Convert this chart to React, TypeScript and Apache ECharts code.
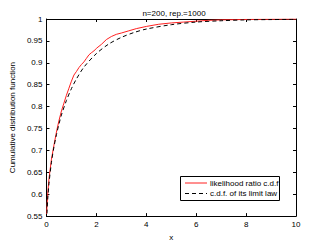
import React, { useEffect, useRef } from "react";
import * as echarts from "echarts";

const titleText = "n=200, rep.=1000";
const seriesNames = ["likelihood ratio c.d.f", "c.d.f. of its limit law"];

const empX = [0, 0.02, 0.05, 0.1, 0.2, 0.3, 0.4, 0.5, 0.6, 0.7, 0.8, 0.9, 1.0, 1.1, 1.2, 1.3, 1.4, 1.5, 1.6, 1.7, 1.8, 1.9, 2.0, 2.2, 2.4, 2.6, 2.8, 3.0, 3.3, 3.6, 4.0, 4.5, 5, 5.5, 6, 6.5, 7, 8, 9, 10];
const empY = [0.555, 0.57, 0.6, 0.635, 0.68, 0.712, 0.742, 0.768, 0.79, 0.808, 0.826, 0.842, 0.858, 0.872, 0.88, 0.889, 0.896, 0.902, 0.91, 0.918, 0.923, 0.927, 0.933, 0.942, 0.953, 0.96, 0.965, 0.968, 0.973, 0.978, 0.983, 0.988, 0.991, 0.993, 0.995, 0.997, 0.998, 0.999, 0.9995, 1];

const limX = [0.01, 0.02, 0.05, 0.1, 0.2, 0.3, 0.4, 0.5, 0.6, 0.8, 1, 1.2, 1.5, 2, 2.5, 3, 3.5, 4, 5, 6, 7, 8, 9, 10];
const limY = [0.54, 0.556, 0.588, 0.624, 0.673, 0.708, 0.736, 0.76, 0.781, 0.814, 0.841, 0.863, 0.89, 0.921, 0.943, 0.958, 0.969, 0.977, 0.987, 0.993, 0.996, 0.998, 0.9987, 0.9992];

const font = "Liberation Sans, Arial, sans-serif";

export default function App() {
  const ref = useRef<HTMLDivElement>(null);
  useEffect(() => {
    const chart = echarts.init(ref.current!, null, { renderer: "svg" });
    const emp = empX.map((x, i) => [x, empY[i]]);
    const lim = limX.map((x, i) => [x, limY[i]]);
    const axisCommon = {
      axisLine: { show: true, onZero: false, lineStyle: { color: "#000", width: 1 } },
      axisTick: { show: true, inside: true, length: 3, lineStyle: { color: "#000" } },
      splitLine: { show: false },
    };
    const lx = 180, ly = 176, lw = 99, lh = 24;
    chart.setOption({
      animation: false,
      backgroundColor: "#fff",
      textStyle: { fontFamily: font },
      title: {
        text: titleText,
        left: 169,
        top: 4,
        textAlign: "center",
        textStyle: { fontSize: 8, fontWeight: "normal", color: "#000", fontFamily: font },
      },
      grid: { left: 42, top: 19, width: 254, height: 199 },
      graphic: [
        {
          type: "group",
          z: 100,
          children: [
            {
              type: "rect",
              shape: { x: lx + 0.5, y: ly + 0.5, width: lw, height: lh },
              style: { fill: "#fff", stroke: "#000", lineWidth: 1 },
            },
            {
              type: "line",
              shape: { x1: lx + 5, y1: ly + 7, x2: lx + 27, y2: ly + 7 },
              style: { stroke: "#ff2020", lineWidth: 1 },
            },
            {
              type: "line",
              shape: { x1: lx + 5, y1: ly + 17.5, x2: lx + 27, y2: ly + 17.5 },
              style: { stroke: "#000", lineWidth: 1, lineDash: [4, 3] },
            },
            {
              type: "text",
              x: lx + 30,
              y: ly + 7,
              style: { text: seriesNames[0], font: `8px ${font}`, fill: "#000", verticalAlign: "middle" },
            },
            {
              type: "text",
              x: lx + 30,
              y: ly + 17.5,
              style: { text: seriesNames[1], font: `8px ${font}`, fill: "#000", verticalAlign: "middle" },
            },
          ],
        },
      ],
      xAxis: [
        {
          type: "value",
          min: 0,
          max: 10,
          interval: 2,
          name: "x",
          nameLocation: "middle",
          nameGap: 15,
          nameTextStyle: { fontSize: 8, color: "#000" },
          axisLabel: { fontSize: 8, color: "#000", margin: 4 },
          ...axisCommon,
        },
        {
          type: "value",
          position: "top",
          min: 0,
          max: 10,
          interval: 2,
          axisLabel: { show: false },
          ...axisCommon,
        },
      ],
      yAxis: [
        {
          type: "value",
          min: 0.55,
          max: 1,
          interval: 0.05,
          name: "Cumulative distribution function",
          nameLocation: "middle",
          nameGap: 21,
          nameTextStyle: { fontSize: 8, color: "#000" },
          axisLabel: {
            fontSize: 8,
            color: "#000",
            margin: 4,
            formatter: (v: number) => String(parseFloat(v.toFixed(2))),
          },
          ...axisCommon,
        },
        {
          type: "value",
          position: "right",
          min: 0.55,
          max: 1,
          interval: 0.05,
          axisLabel: { show: false },
          ...axisCommon,
        },
      ],
      series: [
        {
          name: seriesNames[0],
          type: "line",
          data: emp,
          showSymbol: false,
          symbol: "none",
          clip: true,
          lineStyle: { color: "#ff2020", width: 1 },
        },
        {
          name: seriesNames[1],
          type: "line",
          data: lim,
          showSymbol: false,
          symbol: "none",
          clip: true,
          smooth: 0.3,
          lineStyle: { color: "#000", width: 1, type: [4, 3] },
        },
      ],
    });
    return () => chart.dispose();
  }, []);
  return (
    <div
      ref={ref}
      style={{ position: "fixed", left: 0, top: 0, width: 327, height: 246 }}
    />
  );
}
